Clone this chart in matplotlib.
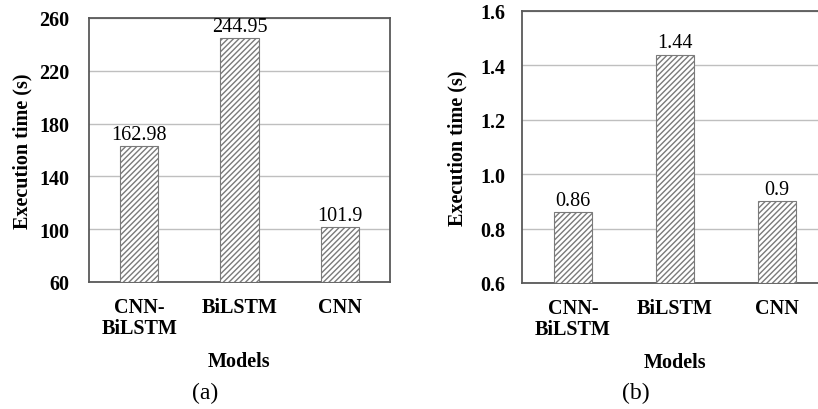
import matplotlib.pyplot as plt

plt.rcParams['font.family'] = ['Liberation Serif', 'DejaVu Serif']
plt.rcParams['hatch.linewidth'] = 1.0

models = ["CNN-\nBiLSTM", "BiLSTM", "CNN"]
train_time = [162.98, 244.95, 101.9]
test_time = [0.86, 1.44, 0.9]
train_labels = ["162.98", "244.95", "101.9"]
test_labels = ["0.86", "1.44", "0.9"]
train_ticks = [60, 100, 140, 180, 220, 260]
test_ticks = [0.6, 0.8, 1.0, 1.2, 1.4, 1.6]

W, H = 818, 410
fig = plt.figure(figsize=(W / 100, H / 100), dpi=100)


def panel(rect, values, labels, ticks, fmt, caption, cap_x, ypad, ylpad):
    ax = fig.add_axes(rect)
    x = range(len(values))
    bars = ax.bar(x, [v - ticks[0] for v in values], bottom=ticks[0], width=0.38,
                  color="white", edgecolor="#7a7a7a", hatch="//////",
                  linewidth=0.8, zorder=3)
    for b, lab in zip(bars, labels):
        ax.annotate(lab, (b.get_x() + b.get_width() / 2, b.get_y() + b.get_height()),
                    xytext=(0, 1.5), textcoords="offset points",
                    ha="center", va="bottom", fontsize=14.5, zorder=4)
    ax.set_xlim(-0.5, len(values) - 0.5)
    ax.set_ylim(ticks[0], ticks[-1])
    ax.set_yticks(ticks)
    ax.set_yticklabels([fmt.format(t) for t in ticks], fontsize=14.5, fontweight="bold")
    ax.set_xticks(list(x))
    ax.set_xticklabels(models, fontsize=14.5, fontweight="bold", linespacing=1.05)
    ax.tick_params(axis="y", length=0, pad=ypad)
    ax.tick_params(axis="x", length=0, pad=11)
    ax.yaxis.grid(True, color="#bfbfbf", linewidth=1, zorder=0)
    for s in ax.spines.values():
        s.set_color("#595959")
        s.set_linewidth(1.3)
    ax.set_ylabel("Execution time (s)", fontsize=14.5, fontweight="bold", labelpad=ylpad)
    ax.set_xlabel("Models", fontsize=14.5, fontweight="bold", labelpad=9)
    fig.text(cap_x / W, 1 - 393 / H, caption, ha="center", va="center", fontsize=17)
    return ax


# left panel: axes spans x 89..390, y 19..283 (pixels)
panel([89 / W, 1 - 283 / H, 301 / W, 264 / H],
      train_time, train_labels, train_ticks, "{:.0f}", "(a)", 205, 14, 5)
# right panel extends past the right edge of the figure
panel([522 / W, 1 - 284 / H, 306 / W, 272 / H],
      test_time, test_labels, test_ticks, "{:.1f}", "(b)", 636, 12, 9)

fig.savefig("out.png", dpi=100)
